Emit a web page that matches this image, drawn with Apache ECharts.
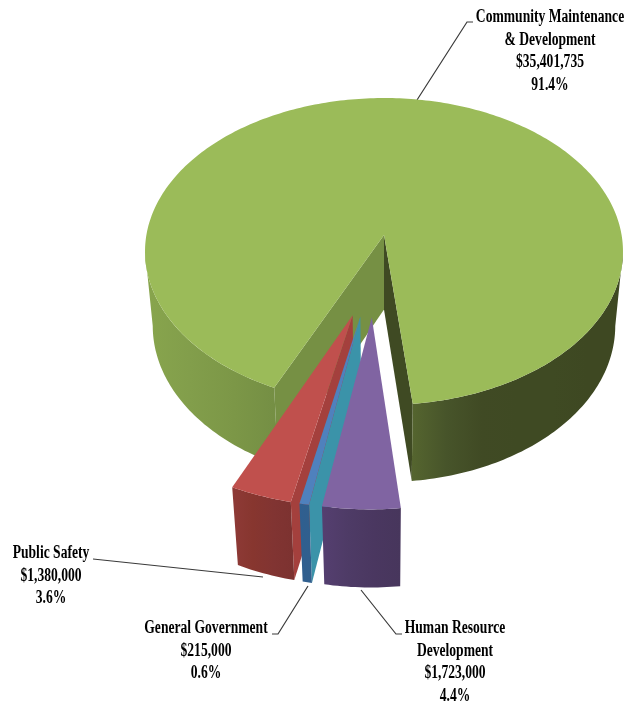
<!DOCTYPE html>
<html>
<head>
<meta charset="utf-8">
<script src="https://cdn.jsdelivr.net/npm/echarts@6/dist/echarts.min.js"></script>
<style>html,body{margin:0;padding:0;background:#fff}#chart{width:627px;height:705px}</style>
</head>
<body>
<div id="chart"></div>
<script>
// Budget shares by program area
var categories = ['Community Maintenance\n& Development', 'Public Safety', 'General Government', 'Human Resource\nDevelopment'];
var amounts = [35401735, 1380000, 215000, 1723000];

// Direction (degrees from the front) each slice is pulled out along, and how far
var pullAngle = [0, -14, -10.5, -5.4];
var pullDistance = [0, 0.5166, 0.5166, 0.5166];

// Slice colours
var topColors = ['#9BBB59', '#C0504D', '#4F81BD', '#8064A2'];
var startWallColors = ['#3F4A23', '#A4403D', '#3B93A9', '#5F4B7C'];
var endWallColors = ['#769044', '#A4403D', '#3B93A9', '#5F4B7C'];
// Shaded bands of the curved wall; the stretch between 84 and 276 degrees lies behind the top
var outerBands = [
  [
    { from: 0, until: 84, stops: ['#55652F', '#47542A', '#404A24', '#3F4A23', '#3F4A23', '#3E4822', '#3E4822'] },
    { from: 276, until: 999, stops: ['#88A54D', '#829E4B', '#7C9747', '#748E44'] }
  ],
  [{ from: 0, until: 999, stops: ['#8E3A37', '#87362F', '#813432', '#7C3230'] }],
  [{ from: 0, until: 999, stops: ['#2F5F90', '#315F8D'] }],
  [{ from: 0, until: 999, stops: ['#553F70', '#4E3B66', '#4A3760', '#47365C'] }]
];

// Perspective of the tilted disc
var view = { cx: 384, cy: 235, f: 237.6, g: 151.7, k: 0.1075, m: 77, n: 0.033 };
var firstAngle = 6.2;

// Labels and their leader lines
var labelPlaces = [
  { x: 550, y: 17 }, { x: 51, y: 553 }, { x: 206, y: 628 }, { x: 455, y: 628 }
];
var leaderPaths = [
  [[417, 100], [467, 22], [473, 22]],
  [[93, 559], [263, 577]],
  [[308, 586], [278, 634], [272, 634]],
  [[361, 590], [396, 634], [402, 634]]
];

var total = amounts.reduce(function (a, b) { return a + b; }, 0);

function project(u, v, h) {
  var w = 1 - view.k * v + view.n * h;
  return [view.cx + view.f * u / w, view.cy + (view.g * v + view.m * h) / w];
}
function rad(d) { return d * Math.PI / 180; }
function area(pts) {
  var s = 0;
  for (var i = 0; i < pts.length; i++) {
    var a = pts[i], b = pts[(i + 1) % pts.length];
    s += a[0] * b[1] - b[0] * a[1];
  }
  return s;
}
function fan(stops) {
  return {
    type: 'linear', x: 0, y: 0, x2: 1, y2: 0,
    colorStops: stops.map(function (c, i) {
      return { offset: stops.length > 1 ? i / (stops.length - 1) : 0, color: c };
    })
  };
}
function poly(points, fill) {
  return { type: 'polygon', silent: true, shape: { points: points }, style: { fill: fill, stroke: null } };
}

// Cumulative slice angles derived from the amounts
var spans = [];
amounts.reduce(function (start, value) {
  var end = start + value / total * 360;
  spans.push([start, end]);
  return end;
}, firstAngle);

function renderSlice(params, api) {
  var i = params.dataIndex;
  var from = spans[i][0], to = spans[i][1];
  var du = pullDistance[i] * Math.sin(rad(pullAngle[i]));
  var dv = pullDistance[i] * Math.cos(rad(pullAngle[i]));
  function rim(t, h) { return project(Math.sin(rad(t)) + du, Math.cos(rad(t)) + dv, h); }
  function hub(h) { return project(du, dv, h); }
  function arc(a, b, h) {
    var out = [], n = Math.max(2, Math.ceil(Math.abs(b - a)));
    for (var j = 0; j <= n; j++) out.push(rim(a + (b - a) * j / n, h));
    return out;
  }
  var topFace = [hub(0)].concat(arc(from, to, 0));
  var sign = area(topFace) > 0 ? 1 : -1;
  var children = [];

  // Flat cut walls, back faces culled
  function wall(a0, b0, a1, b1, color) {
    var q = [b0, a0, a1, b1];
    if (area(q) * sign > 0) children.push(poly(q, color));
  }
  wall(hub(0), rim(from, 0), hub(1), rim(from, 1), startWallColors[i]);
  wall(rim(to, 0), hub(0), rim(to, 1), hub(1), endWallColors[i]);

  // Curved outer wall
  outerBands[i].forEach(function (band) {
    var a = Math.max(band.from, from), b = Math.min(band.until, to);
    if (b <= a) return;
    children.push(poly(arc(a, b, 0).concat(arc(b, a, 1)), fan(band.stops)));
  });

  children.push(poly(topFace, topColors[i]));
  return { type: 'group', children: children };
}

function labelText(i) {
  var pct = (amounts[i] / total * 100).toFixed(1) + '%';
  return categories[i] + '\n$' + amounts[i].toLocaleString('en-US') + '\n' + pct;
}

var graphics = [];
leaderPaths.forEach(function (path) {
  graphics.push({
    type: 'polyline', silent: true, shape: { points: path },
    style: { stroke: '#3a3a3a', lineWidth: 1.2, fill: null }
  });
});
labelPlaces.forEach(function (p, i) {
  graphics.push({
    type: 'text', silent: true, x: p.x, y: p.y - 11, scaleX: 0.755,
    style: {
      text: labelText(i), x: 0, y: 0, align: 'center', verticalAlign: 'top',
      font: 'bold 18px "Liberation Serif"', lineHeight: 22.6, fill: '#000'
    }
  });
});

var chart = echarts.init(document.getElementById('chart'), null, { renderer: 'canvas' });
chart.setOption({
  animation: false,
  backgroundColor: '#ffffff',
  series: [{
    type: 'custom',
    coordinateSystem: 'none',
    silent: true,
    data: amounts,
    renderItem: renderSlice
  }],
  graphic: graphics
});
</script>
</body>
</html>
